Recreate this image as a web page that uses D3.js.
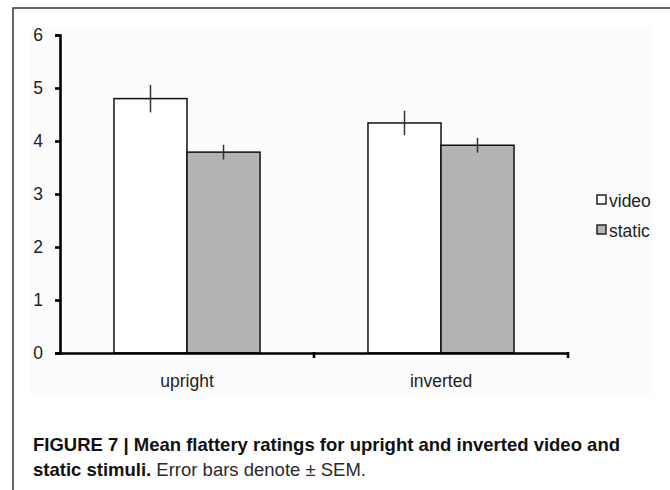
<!DOCTYPE html>
<html>
<head>
<meta charset="utf-8">
<script src="https://cdn.jsdelivr.net/npm/d3@7"></script>
<style>
  html, body { margin: 0; padding: 0; background: #fff; }
  svg { display: block; }
</style>
</head>
<body>
<svg id="chart" width="670" height="490"></svg>
<script>
const categories = ["upright", "inverted"];
const seriesNames = ["video", "static"];
const videoValues = [4.80, 4.34];
const videoErrors = [0.26, 0.23];
const staticValues = [3.79, 3.92];
const staticErrors = [0.14, 0.14];
const yTicks = [0, 1, 2, 3, 4, 5, 6];
const captionBold1 = "FIGURE 7 | Mean flattery ratings for upright and inverted video and";
const captionBold2 = "static stimuli.";
const captionRegular2 = " Error bars denote \u00B1 SEM.";

const seriesValues = { video: videoValues, static: staticValues };
const seriesErrors = { video: videoErrors, static: staticErrors };
const fills = { video: "#ffffff", static: "#b4b4b4" };

const rows = [];
categories.forEach((c, i) => {
  seriesNames.forEach(s => {
    rows.push({ cat: c, series: s, value: seriesValues[s][i], err: seriesErrors[s][i] });
  });
});

const svg = d3.select("#chart");
const font = "'Liberation Sans', Arial, Helvetica, sans-serif";
const narrow = "'Liberation Sans Narrow', 'Arial Narrow', 'Liberation Sans', sans-serif";

// outer frame
svg.append("path")
  .attr("d", "M13,490 L13,8 L670,8")
  .attr("fill", "none").attr("stroke", "#333").attr("stroke-width", 1.5);

// faint chart-area background
svg.append("rect").attr("x", 30).attr("y", 27).attr("width", 623).attr("height", 368)
  .attr("fill", "#fcfcfc");

const y = d3.scaleLinear().domain([0, 6]).range([353, 35]);
const x0 = d3.scaleBand().domain(categories).range([60, 568])
  .paddingInner(0.425).paddingOuter(0.2125);
const x1 = d3.scaleBand().domain(seriesNames).range([0, x0.bandwidth()]);

// bars
svg.append("g").selectAll("rect").data(rows).join("rect")
  .attr("x", d => x0(d.cat) + x1(d.series))
  .attr("y", d => y(d.value))
  .attr("width", x1.bandwidth())
  .attr("height", d => y(0) - y(d.value))
  .attr("fill", d => fills[d.series])
  .attr("stroke", "#111").attr("stroke-width", 1.5);

// error bars
svg.append("g").selectAll("line").data(rows).join("line")
  .attr("x1", d => x0(d.cat) + x1(d.series) + x1.bandwidth() / 2)
  .attr("x2", d => x0(d.cat) + x1(d.series) + x1.bandwidth() / 2)
  .attr("y1", d => y(d.value + d.err))
  .attr("y2", d => y(d.value - d.err))
  .attr("stroke", "#333").attr("stroke-width", 1.5);

// y axis
const yAxis = svg.append("g").attr("transform", "translate(60,0)")
  .call(d3.axisLeft(y).tickValues(yTicks).tickFormat(d3.format("d")).tickSizeOuter(0).tickSize(5).tickPadding(12));
yAxis.select(".domain").attr("stroke", "#000").attr("stroke-width", 2.6);
yAxis.selectAll(".tick line").attr("stroke", "#000").attr("stroke-width", 2.6);
yAxis.selectAll("text").attr("font-family", font).attr("font-size", 17.5).attr("fill", "#222");

// x axis (labels at category centers)
const xAxis = svg.append("g").attr("transform", "translate(0,353)")
  .call(d3.axisBottom(x0).tickSize(0).tickPadding(22).tickSizeOuter(0));
xAxis.select(".domain").attr("stroke", "#000").attr("stroke-width", 2.6);
xAxis.selectAll("text").attr("font-family", font).attr("font-size", 17.5).attr("fill", "#222");

// category boundary ticks
const boundaries = categories.slice(1).map(c => x0(c) - x0.step() * x0.paddingInner() / 2)
  .concat([x0.range()[1]]);
svg.append("g").selectAll("line").data(boundaries).join("line")
  .attr("x1", d => d).attr("x2", d => d)
  .attr("y1", 352).attr("y2", 358)
  .attr("stroke", "#000").attr("stroke-width", 2.6);

// legend
const legend = svg.append("g").selectAll("g").data(seriesNames).join("g")
  .attr("transform", (d, i) => `translate(597,${195 + i * 30})`);
legend.append("rect").attr("width", 9).attr("height", 9)
  .attr("fill", d => fills[d]).attr("stroke", "#222").attr("stroke-width", 1.5);
legend.append("text").attr("x", 12).attr("y", 11.5)
  .attr("font-family", font).attr("font-size", 17.5).attr("fill", "#222")
  .text(d => d);

// caption
svg.append("text").attr("x", 33).attr("y", 451)
  .attr("font-family", narrow).attr("font-weight", "bold").attr("font-size", 18.5).attr("fill", "#111")
  .text(captionBold1);
const t2 = svg.append("text").attr("x", 33).attr("y", 476)
  .attr("font-family", narrow).attr("font-size", 18.5).attr("fill", "#111");
t2.append("tspan").attr("font-weight", "bold").text(captionBold2);
t2.append("tspan").attr("fill", "#2a2a2a").text(captionRegular2);
</script>
</body>
</html>
